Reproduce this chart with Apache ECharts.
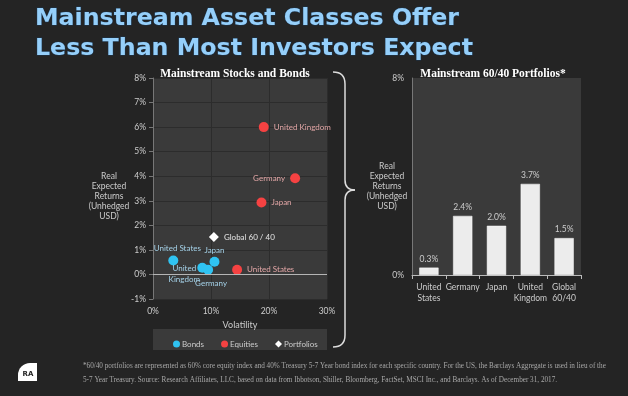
<!DOCTYPE html>
<html>
<head>
<meta charset="utf-8">
<script src="https://cdn.jsdelivr.net/npm/echarts@6/dist/echarts.min.js"></script>
<style>
  html, body { margin: 0; padding: 0; background: #242424; }
  #chart { width: 628px; height: 396px; }
</style>
</head>
<body>
<div id="chart"></div>
<script>
// scatter: volatility (%) vs real expected return (%)
const bondNames = ["United States", "United Kingdom", "Germany", "Japan"];
const bondVol = [3.5, 8.5, 9.5, 10.6];
const bondRet = [0.57, 0.27, 0.19, 0.52];

const equityNames = ["United Kingdom", "Germany", "Japan", "United States"];
const equityVol = [19.1, 24.5, 18.7, 14.5];
const equityRet = [6.0, 3.92, 2.93, 0.19];

const portfolioNames = ["Global 60 / 40"];
const portfolioVol = [10.5];
const portfolioRet = [1.52];

// bars: 60/40 portfolios
const portfolioCats = ["United\nStates", "Germany", "Japan", "United\nKingdom", "Global\n60/40"];
const portfolioReturns = [0.3, 2.4, 2.0, 3.7, 1.5];

const yName = "Real\nExpected\nReturns\n(Unhedged\nUSD)";
const footnote =
  "*60/40 portfolios are represented as 60% core equity index and 40% Treasury 5-7 Year bond index for each specific country. For the US, the Barclays Aggregate is used in lieu of the\n" +
  "5-7 Year Treasury. Source: Research Affiliates, LLC, based on data from Ibbotson, Shiller, Bloomberg, FactSet, MSCI Inc., and Barclays. As of December 31, 2017.";

const FONT = "Lato";
const BOND = "#2fc3f2";
const EQUITY = "#f54242";

// label placement per point (offsets from the symbol centre)
const bondLabel = {
  "United States": { offset: [4, -12] },
  "United Kingdom": { offset: [-18, 6], text: "United\nKingdom" },
  "Germany": { offset: [3, 14] },
  "Japan": { offset: [0, -11] },
};
const equityLabel = {
  "United Kingdom": "right",
  "Germany": "left",
  "Japan": "right",
  "United States": "right",
};

const chart = echarts.init(document.getElementById("chart"));

const brace = { stroke: "#dddddd", lineWidth: 1.5, fill: null };

const options = {
  backgroundColor: "#242424",
  animation: false,
  textStyle: { fontFamily: FONT },
  title: [
    {
      text: "Mainstream Asset Classes Offer\nLess Than Most Investors Expect",
      left: 30,
      top: -1,
      textStyle: {
        color: "#95cffa",
        fontFamily: "DejaVu Sans",
        fontWeight: "bold",
        fontSize: 23.7,
        lineHeight: 30,
        textBorderColor: "#1c3650",
        textBorderWidth: 1,
      },
    },
    {
      text: "Mainstream Stocks and Bonds",
      left: 230,
      top: 63,
      textAlign: "center",
      textStyle: { color: "#ffffff", fontFamily: "Liberation Serif", fontWeight: "bold", fontSize: 11.5 },
    },
    {
      text: "Mainstream 60/40 Portfolios*",
      left: 488,
      top: 63,
      textAlign: "center",
      textStyle: { color: "#ffffff", fontFamily: "Liberation Serif", fontWeight: "bold", fontSize: 11.5 },
    },
  ],
  legend: {
    left: 168,
    top: 335,
    itemGap: 17,
    itemWidth: 7,
    itemHeight: 7,
    data: [
      { name: "Bonds", icon: "circle" },
      { name: "Equities", icon: "circle" },
      { name: "Portfolios", icon: "diamond" },
    ],
    textStyle: { color: "#cccccc", fontSize: 8, fontFamily: FONT, padding: [0, 0, 0, -3] },
  },
  grid: [
    { left: 153, top: 78, width: 174, height: 221, show: true, backgroundColor: "#3a3a3a", borderWidth: 0 },
    { left: 412, top: 78, width: 169, height: 197, show: true, backgroundColor: "#3a3a3a", borderWidth: 0 },
  ],
  xAxis: [
    {
      gridIndex: 0,
      type: "value",
      min: 0,
      max: 30,
      interval: 10,
      name: "Volatility",
      nameLocation: "middle",
      nameGap: 20,
      nameTextStyle: { color: "#cccccc", fontSize: 9 },
      axisLine: { show: false, onZero: false },
      axisTick: { show: false },
      axisLabel: { color: "#cccccc", fontSize: 8.5, margin: 8, formatter: "{value}%" },
      splitLine: { show: true, lineStyle: { color: "#2c2c2c" } },
    },
    {
      gridIndex: 1,
      type: "category",
      data: portfolioCats,
      axisLine: { lineStyle: { color: "#bbbbbb" } },
      axisTick: { show: true, length: 4, lineStyle: { color: "#bbbbbb" } },
      axisLabel: { color: "#cccccc", fontSize: 8.5, lineHeight: 11, margin: 7, interval: 0 },
      splitLine: { show: false },
    },
  ],
  yAxis: [
    {
      gridIndex: 0,
      type: "value",
      min: -1,
      max: 8,
      interval: 1,
      axisLine: { show: true, lineStyle: { color: "#777777" } },
      axisTick: { show: true, length: 4, lineStyle: { color: "#777777" } },
      axisLabel: { color: "#cccccc", fontSize: 8.5, margin: 7, formatter: "{value}%" },
      splitLine: { show: true, lineStyle: { color: "#2c2c2c" } },
    },
    {
      gridIndex: 1,
      type: "value",
      min: 0,
      max: 8,
      interval: 8,
      axisLine: { show: true, lineStyle: { color: "#777777" } },
      axisTick: { show: false },
      axisLabel: { color: "#cccccc", fontSize: 8.5, margin: 8, formatter: "{value}%" },
      splitLine: { show: false },
    },
  ],
  series: [
    {
      name: "Bonds",
      type: "scatter",
      xAxisIndex: 0,
      yAxisIndex: 0,
      symbolSize: 10,
      itemStyle: { color: BOND, opacity: 1 },
      data: bondNames.map((n, i) => ({
        name: n,
        value: [bondVol[i], bondRet[i]],
        label: {
          show: true,
          position: "inside",
          offset: bondLabel[n].offset,
          formatter: bondLabel[n].text || n,
        },
      })),
      label: { color: "#a6d3ea", fontSize: 8, lineHeight: 11 },
    },
    {
      name: "Equities",
      type: "scatter",
      xAxisIndex: 0,
      yAxisIndex: 0,
      symbolSize: 10,
      itemStyle: { color: EQUITY, opacity: 1 },
      data: equityNames.map((n, i) => ({
        name: n,
        value: [equityVol[i], equityRet[i]],
        label: { show: true, position: equityLabel[n], distance: 5 },
      })),
      label: { color: "#e3a7a7", fontSize: 8, formatter: "{b}" },
      markLine: {
        silent: true,
        symbol: "none",
        label: { show: false },
        lineStyle: { color: "#b5b5b5", type: "solid", width: 1 },
        data: [{ yAxis: 0 }],
      },
    },
    {
      name: "Portfolios",
      type: "scatter",
      xAxisIndex: 0,
      yAxisIndex: 0,
      symbol: "diamond",
      symbolSize: 10,
      itemStyle: { color: "#ffffff", opacity: 1 },
      data: portfolioNames.map((n, i) => ({ name: n, value: [portfolioVol[i], portfolioRet[i]] })),
      label: { show: true, position: "right", distance: 5, color: "#e6e6e6", fontSize: 8, formatter: "{b}" },
    },
    {
      name: "60/40",
      type: "bar",
      xAxisIndex: 1,
      yAxisIndex: 1,
      barWidth: "57%",
      data: portfolioReturns,
      itemStyle: { color: "#ececec", borderColor: "#ffffff", borderWidth: 0.5 },
      label: {
        show: true,
        position: "top",
        distance: 4,
        color: "#cccccc",
        fontSize: 8.5,
        formatter: (p) => p.value.toFixed(1) + "%",
      },
    },
  ],
  graphic: [
    { type: "rect", shape: { x: 153, y: 329, width: 174, height: 21 }, style: { fill: "#3a3a3a" }, z: -1 },
    {
      type: "text", x: 109, y: 196,
      style: { text: yName, fill: "#cccccc", font: "8.5px Lato", align: "center", verticalAlign: "middle", lineHeight: 10 },
    },
    {
      type: "text", x: 387, y: 186,
      style: { text: yName, fill: "#cccccc", font: "8.5px Lato", align: "center", verticalAlign: "middle", lineHeight: 10 },
    },
    // curly brace
    { type: "bezierCurve", shape: { x1: 333, y1: 72, cpx1: 345, cpy1: 72, x2: 345, y2: 84 }, style: brace },
    { type: "line", shape: { x1: 345, y1: 84, x2: 345, y2: 180 }, style: brace },
    { type: "bezierCurve", shape: { x1: 345, y1: 180, cpx1: 345, cpy1: 190, x2: 355, y2: 190 }, style: brace },
    { type: "bezierCurve", shape: { x1: 355, y1: 190, cpx1: 345, cpy1: 190, x2: 345, y2: 200 }, style: brace },
    { type: "line", shape: { x1: 345, y1: 200, x2: 345, y2: 335 }, style: brace },
    { type: "bezierCurve", shape: { x1: 345, y1: 335, cpx1: 345, cpy1: 347, x2: 333, y2: 347 }, style: brace },
    {
      type: "text", x: 83, y: 373,
      style: { text: footnote, fill: "#a8a8a8", font: "7.2px 'Liberation Serif'", verticalAlign: "middle", lineHeight: 14 },
    },
    // logo
    { type: "rect", shape: { x: 18, y: 363, width: 19, height: 18, r: [12, 0, 0, 0] }, style: { fill: "#ffffff" } },
    {
      type: "text", x: 28, y: 374,
      style: { text: "RA", fill: "#242424", font: "bold 7px 'DejaVu Sans'", align: "center", verticalAlign: "middle" },
    },
  ],
};

chart.setOption(options);
</script>
</body>
</html>
